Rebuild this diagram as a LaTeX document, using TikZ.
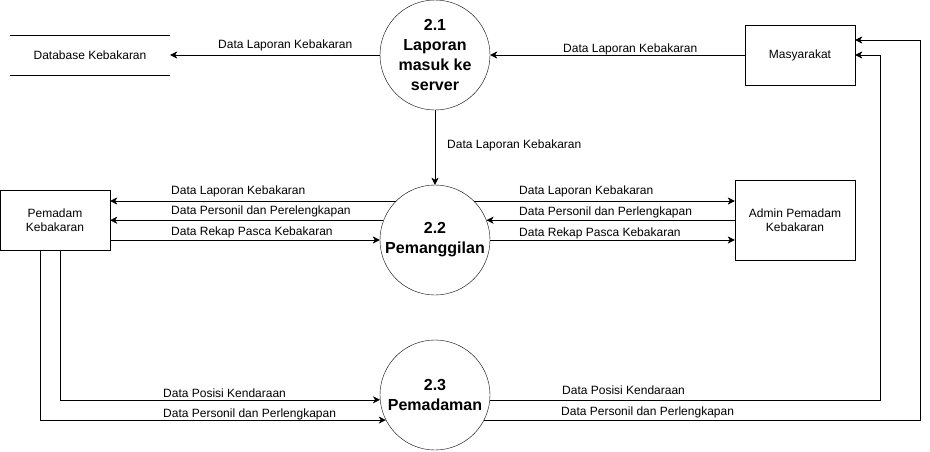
\documentclass[tikz,border=0pt]{standalone}
\usepackage{fontspec}
\setmainfont{Liberation Sans}
\usetikzlibrary{arrows.meta, calc}

\tikzset{
  proses/.style={draw, circle, minimum size=110pt, inner sep=0pt, align=center, font=\fontsize{16}{20}\selectfont\bfseries},
  entitas/.style={draw, rectangle, align=center, font=\fontsize{12}{14}\selectfont},
  alur/.style={-{Stealth[length=7pt, width=7pt, inset=2pt]}},
  lbl/.style={inner sep=0pt, anchor=west, text height=8.6pt, text depth=0pt, font=\fontsize{12}{14}\selectfont}
}

\begin{document}
\begin{tikzpicture}[x=1pt, y=-1pt]
\useasboundingbox (0,0) rectangle (930,451);

% proses
\node[proses] (c21) at (435,55) {2.1\\Laporan\\masuk ke\\server};
\node[proses] (c22) at (435,240) {2.2\\Pemanggilan};
\node[proses] (c23) at (435,395) {2.3\\Pemadaman};

% entitas dan data store
\node[entitas, minimum width=110pt, minimum height=60pt] (mas) at (800,55) {Masyarakat};
\node[entitas, minimum width=110pt, minimum height=60pt] (pem) at (55,220) {Pemadam\\Kebakaran};
\node[entitas, minimum width=120pt, minimum height=80pt] (adm) at (795,220) {Admin Pemadam\\Kebakaran};
\node[minimum width=160pt, minimum height=40pt, font=\fontsize{12}{14}\selectfont] (db) at (90,55) {Database Kebakaran};
\draw (db.north west) -- (db.north east) (db.south west) -- (db.south east);

\coordinate (ka1) at (880,55);
\coordinate (ka2) at (920,40);
\coordinate (ki1) at (60,400);
\coordinate (ki2) at (40,420);

% alur data
\draw[alur] (c21) -- (db);
\draw[alur] (mas) -- (c21);
\draw[alur] (c21) -- (c22);
\draw[alur] (c22.135) -- (c22.135 -| pem.east);
\draw[alur] (c22.159) -- (c22.159 -| pem.east);
\draw[alur] (pem.east |- c22.west) -- (c22.west);
\draw[alur] (c22.45) -- (c22.45 -| adm.west);
\draw[alur] (adm.west |- c22.21) -- (c22.21);
\draw[alur] (c22.east) -- (c22.east -| adm.west);
\draw[alur] (pem.south -| ki1) |- (c23.185);
\draw[alur] (pem.south -| ki2) |- (c23.207);
\draw[alur] (c23.355) -| (ka1) -- (mas.east);
\draw[alur] (c23.333) -| (ka2) -- (mas.east |- ka2);

% label
\node[lbl] (t1) at (218,44) {Data Laporan Kebakaran};
\node[lbl] (t2) at (563,48) {Data Laporan Kebakaran};
\node[lbl] (t3) at (447,144) {Data Laporan Kebakaran};
\node[lbl] (t4) at (171,190) {Data Laporan Kebakaran};
\node[lbl] (t5) at (171,210) {Data Personil dan Perelengkapan};
\node[lbl] (t6) at (171,231) {Data Rekap Pasca Kebakaran};
\node[lbl] (t7) at (519,190) {Data Laporan Kebakaran};
\node[lbl] (t8) at (519,211) {Data Personil dan Perlengkapan};
\node[lbl] (t9) at (519,232) {Data Rekap Pasca Kebakaran};
\node[lbl] (t10) at (163,393) {Data Posisi Kendaraan};
\node[lbl] (t11) at (163,413) {Data Personil dan Perlengkapan};
\node[lbl] (t12) at (562,390) {Data Posisi Kendaraan};
\node[lbl] (t13) at (561,411) {Data Personil dan Perlengkapan};
\end{tikzpicture}
\end{document}
